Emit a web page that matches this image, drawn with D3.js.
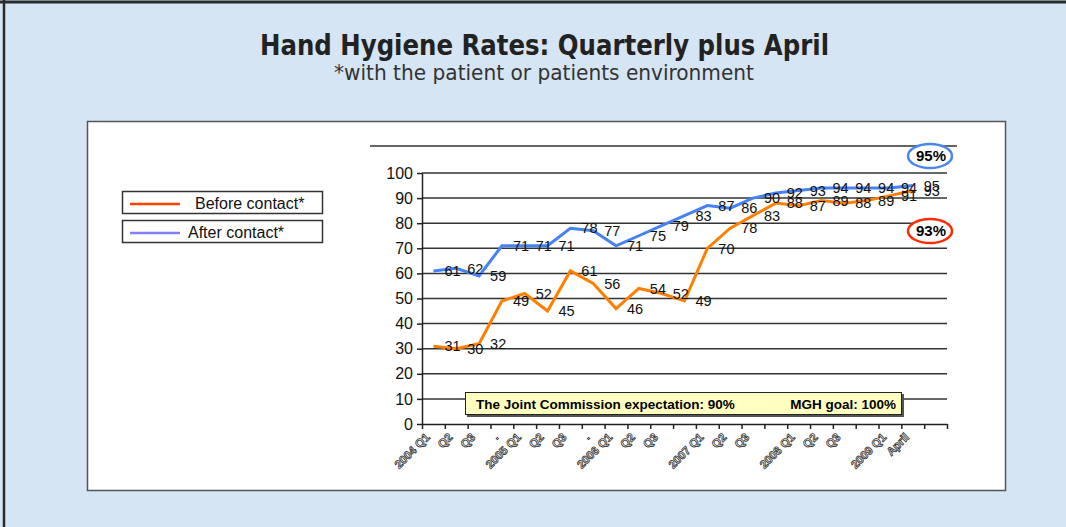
<!DOCTYPE html>
<html>
<head>
<meta charset="utf-8">
<script src="https://cdn.jsdelivr.net/npm/d3@7"></script>
<style>
  body { margin: 0; background: #d5e5f4; }
  svg { display: block; }
</style>
</head>
<body>
<div id="chart"></div>
<script>
// Chart data
var xLabels = ["2004 Q1", "Q2", "Q3", ".", "2005 Q1", "Q2", "Q3", ".",
  "2006 Q1", "Q2", "Q3", "", "2007 Q1", "Q2", "Q3", "",
  "2008 Q1", "Q2", "Q3", "", "2009 Q1", "April", ""];
var beforeContact = [31, 30, 32, 49, 52, 45, 61, 56, 46, 54, 52, 49, 70, 78, 83, 88, 87, 89, 88, 89, 91, 93];
var afterContact = [61, 62, 59, 71, 71, 71, 78, 77, 71, 75, 79, 83, 87, 86, 90, 92, 93, 94, 94, 94, 94, 95];
var yTicks = [0, 10, 20, 30, 40, 50, 60, 70, 80, 90, 100];
var seriesNames = ["Before contact*", "After contact*"];

var svgWidth = 1066;
var svgHeight = 527;

var svg = d3.select("#chart")
  .append("svg")
  .attr("width", svgWidth)
  .attr("height", svgHeight);

// outer frame
svg.append("rect")
  .attr("x", 0).attr("y", 0)
  .attr("width", svgWidth).attr("height", svgHeight)
  .attr("fill", "#d5e5f4");
svg.append("line")
  .attr("x1", 0).attr("x2", svgWidth).attr("y1", 2).attr("y2", 2)
  .attr("stroke", "#2a2a2a").attr("stroke-width", 3);
svg.append("line")
  .attr("x1", 4).attr("x2", 4).attr("y1", 0).attr("y2", svgHeight)
  .attr("stroke", "#2a2a2a").attr("stroke-width", 2.5);

// titles
svg.append("text")
  .attr("x", 260).attr("y", 55)
  .attr("textLength", 569)
  .attr("lengthAdjust", "spacingAndGlyphs")
  .attr("font-family", "'Liberation Sans Narrow', 'DejaVu Sans Condensed', Roboto, sans-serif")
  .attr("font-weight", "bold")
  .attr("font-size", "28px")
  .attr("fill", "#222")
  .text("Hand Hygiene Rates: Quarterly plus April");

svg.append("text")
  .attr("x", 334).attr("y", 80)
  .attr("textLength", 420)
  .attr("lengthAdjust", "spacingAndGlyphs")
  .attr("font-family", "'Liberation Sans Narrow', 'DejaVu Sans Condensed', Roboto, sans-serif")
  .attr("font-size", "22px")
  .attr("fill", "#333")
  .text("*with the patient or patients environment");

// white chart panel
svg.append("rect")
  .attr("x", 87.5).attr("y", 121.5)
  .attr("width", 918).attr("height", 369)
  .attr("fill", "#fff")
  .attr("stroke", "#555")
  .attr("stroke-width", 1.5);

// scales
var x = d3.scaleLinear().domain([0, xLabels.length]).range([422, 947]);
var y = d3.scaleLinear().domain([0, 100]).range([424, 173]);
var cx = function(i) { return x(i + 0.5); };

var plot = svg.append("g");

// top rule above plot
plot.append("line")
  .attr("x1", 370).attr("x2", 957).attr("y1", 146).attr("y2", 146)
  .attr("stroke", "#333").attr("stroke-width", 1.5);

// gridlines
plot.selectAll(".grid")
  .data(yTicks.filter(function(v) { return v > 0; }))
  .enter()
  .append("line")
  .attr("class", "grid")
  .attr("x1", 422).attr("x2", 947)
  .attr("y1", function(v) { return y(v); })
  .attr("y2", function(v) { return y(v); })
  .attr("stroke", "#333").attr("stroke-width", 1.5);

// y axis
var leftAxis = d3.axisLeft(y).tickValues(yTicks).tickSize(5).tickPadding(4).tickSizeOuter(0);
var yAxisG = plot.append("g")
  .attr("transform", "translate(422,0)")
  .call(leftAxis);
yAxisG.selectAll("path, line").attr("stroke", "#222").attr("stroke-width", 1.5);
yAxisG.selectAll("text")
  .attr("font-family", "'Liberation Sans', Arial, sans-serif")
  .attr("font-size", "16px")
  .attr("fill", "#111");

// x axis
var bottomAxis = d3.axisBottom(x).tickValues(d3.range(xLabels.length + 1)).tickSize(5).tickFormat("").tickSizeOuter(0);
var xAxisG = plot.append("g")
  .attr("transform", "translate(0,424)")
  .call(bottomAxis);
xAxisG.selectAll("path, line").attr("stroke", "#222").attr("stroke-width", 1.5);

plot.selectAll(".xlab")
  .data(xLabels)
  .enter()
  .append("text")
  .attr("class", "xlab")
  .attr("transform", function(d, i) { return "translate(" + (cx(i) - 3) + ",438) rotate(-45)"; })
  .attr("text-anchor", "end")
  .attr("font-family", "'Liberation Sans', Arial, sans-serif")
  .attr("font-weight", "bold")
  .attr("font-size", "11.5px")
  .attr("fill", "#fff")
  .attr("stroke", "#333")
  .attr("stroke-width", 0.8)
  .text(function(d) { return d; });

// annotation box
plot.append("rect")
  .attr("x", 467).attr("y", 394)
  .attr("width", 437).attr("height", 23)
  .attr("fill", "#555");
plot.append("rect")
  .attr("x", 465.5).attr("y", 392.5)
  .attr("width", 436).attr("height", 22)
  .attr("fill", "#ffffc0")
  .attr("stroke", "#222").attr("stroke-width", 1);
plot.append("text")
  .attr("x", 476).attr("y", 408.5)
  .attr("font-family", "'Liberation Sans', Arial, sans-serif")
  .attr("font-weight", "bold").attr("font-size", "13.5px")
  .text("The Joint Commission expectation: 90%");
plot.append("text")
  .attr("x", 896).attr("y", 408.5)
  .attr("text-anchor", "end")
  .attr("font-family", "'Liberation Sans', Arial, sans-serif")
  .attr("font-weight", "bold").attr("font-size", "13.5px")
  .text("MGH goal: 100%");

// lines
var line = d3.line()
  .x(function(d, i) { return cx(i); })
  .y(function(d) { return y(d); });

plot.append("path")
  .datum(afterContact)
  .attr("d", line)
  .attr("fill", "none")
  .attr("stroke", "#4682f5")
  .attr("stroke-width", 3);

plot.append("path")
  .datum(beforeContact)
  .attr("d", line)
  .attr("fill", "none")
  .attr("stroke", "#ff8000")
  .attr("stroke-width", 3);

// data labels
[afterContact, beforeContact].forEach(function(series) {
  plot.selectAll(null)
    .data(series)
    .enter()
    .append("text")
    .attr("x", function(d, i) { return cx(i) + 11; })
    .attr("y", function(d) { return y(d); })
    .attr("dy", "0.36em")
    .attr("font-family", "'Liberation Sans', Arial, sans-serif")
    .attr("font-size", "14.5px")
    .attr("fill", "#111")
    .text(function(d) { return d; });
});

// circled callouts
var callouts = [
  { value: afterContact[afterContact.length - 1], cy: 156, color: "#4a86e8" },
  { value: beforeContact[beforeContact.length - 1], cy: 231, color: "#ff2a00" }
];
callouts.forEach(function(c) {
  plot.append("ellipse")
    .attr("cx", 930).attr("cy", c.cy)
    .attr("rx", 22).attr("ry", 12)
    .attr("fill", "#fff")
    .attr("stroke", c.color).attr("stroke-width", 2.5);
  plot.append("text")
    .attr("x", 931).attr("y", c.cy)
    .attr("dy", "0.36em")
    .attr("text-anchor", "middle")
    .attr("font-family", "'Liberation Sans', Arial, sans-serif")
    .attr("font-weight", "bold").attr("font-size", "15px")
    .text(c.value + "%");
});

// legend
var legendColors = ["#ff4000", "#8080ff"];
var legendText = [195, 188];
seriesNames.forEach(function(name, i) {
  var top = 191.5 + i * 29;
  svg.append("rect")
    .attr("x", 122.5).attr("y", top)
    .attr("width", 200).attr("height", 22)
    .attr("fill", "#fff")
    .attr("stroke", "#333").attr("stroke-width", 1.5);
  svg.append("line")
    .attr("x1", 130).attr("x2", 180)
    .attr("y1", top + 12.5).attr("y2", top + 12.5)
    .attr("stroke", legendColors[i]).attr("stroke-width", 2.5);
  svg.append("text")
    .attr("x", legendText[i]).attr("y", top + 17)
    .attr("font-family", "'Liberation Sans', Arial, sans-serif")
    .attr("font-size", "16px")
    .attr("fill", "#111")
    .text(name);
});
</script>
</body>
</html>
